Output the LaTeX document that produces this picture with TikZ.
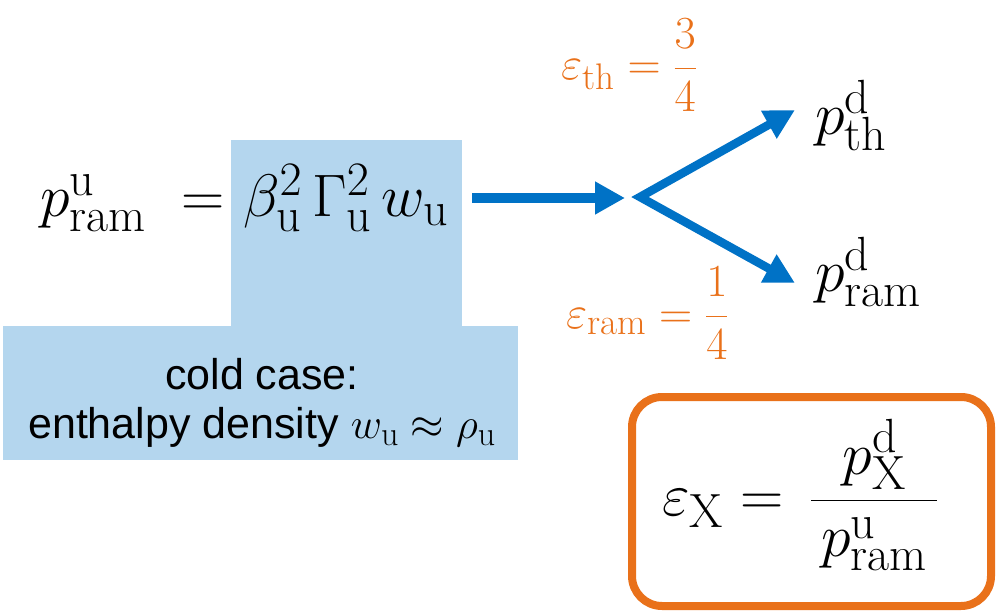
\RequirePackage{fix-cm}
\documentclass[tikz,border=0pt]{standalone}
\usepackage{amsmath}
\usepackage{fontspec}
\newfontfamily\arialfont{Liberation Sans}
\usetikzlibrary{arrows.meta}
\DeclareMathSizes{60}{60}{48}{36}
\DeclareMathSizes{46}{46}{37}{28}
\DeclareMathSizes{43}{43}{34}{26}
\definecolor{boxblue}{RGB}{180,214,238}
\definecolor{arrowblue}{RGB}{0,114,198}
\definecolor{orng}{RGB}{233,113,26}
\tikzset{
  bluebox/.style={fill=boxblue, draw=none, inner sep=0pt, anchor=north west},
  bigmath/.style={inner sep=0pt, font=\fontsize{60}{70}\selectfont},
  lblmath/.style={inner sep=0pt, text=orng, font=\fontsize{46}{54}\selectfont},
  flow/.style={draw=arrowblue, line width=10pt, -{Triangle[length=30pt,width=31pt]}},
  branch/.style={draw=arrowblue, line width=8.5pt, line join=miter, {Triangle[length=30pt,width=30pt]}-{Triangle[length=30pt,width=30pt]}},
}
\newcommand{\rmsub}[1]{\mathrm{#1}}
\begin{document}
\begin{tikzpicture}[x=1pt,y=-1pt]
\useasboundingbox (0,0) rectangle (996,612);
% blue boxes
\node[bluebox, minimum width=231pt, minimum height=187pt] (topbox) at (231,140) {};
\node[bluebox, minimum width=515pt, minimum height=134pt] (botbox) at (3,326) {};
% main formula
\node[bigmath, anchor=base west] (lhs) at (40,217) {$p^{\rmsub{u}}_{\rmsub{ram}}$};
\node[bigmath, anchor=base] (eq) at (203,217) {$=$};
\node[bigmath, anchor=base] (rhs) at (346,217) {$\beta_{\rmsub{u}}^2\,\Gamma_{\rmsub{u}}^2\, w_{\rmsub{u}}$};
% cold case text
\node[inner sep=0pt, align=center, font=\arialfont\fontsize{43}{49}\selectfont] (cold) at (262,403)
  {cold case:\\ enthalpy density $w_{\rmsub{u}}\approx\rho_{\rmsub{u}}$};
% arrows
\coordinate (a0) at (472,198);
\coordinate (a1) at (625,198);
\coordinate (split) at (640,197);
\coordinate (tipth) at (795,110);
\coordinate (tipram) at (795,283);
\draw[flow] (a0) -- (a1);
\draw[branch] (tipth) -- (split) -- (tipram);
% outputs
\node[bigmath, anchor=base west] (pth) at (815,135) {$p^{\rmsub{d}}_{\rmsub{th}}$};
\node[bigmath, anchor=base west] (pram) at (815,292) {$p^{\rmsub{d}}_{\rmsub{ram}}$};
% efficiency labels
\node[lblmath, anchor=base west] (epsth) at (561,80) {$\varepsilon_{\rmsub{th}} = \dfrac{3}{4}$};
\node[lblmath, anchor=base west] (epsram) at (566,328) {$\varepsilon_{\rmsub{ram}} = \dfrac{1}{4}$};
% definition box
\node[draw=orng, line width=8pt, rounded corners=30pt, minimum width=359pt, minimum height=209pt, inner sep=0pt] (defbox) at (811.5,501.5) {};
\node[bigmath, anchor=base west] (defn) at (662,515) {$\varepsilon_{\rmsub{X}} = \,\dfrac{p^{\rmsub{d}}_{\rmsub{X}}}{\,p^{\rmsub{u}}_{\rmsub{ram}}\,}$};
\end{tikzpicture}
\end{document}
